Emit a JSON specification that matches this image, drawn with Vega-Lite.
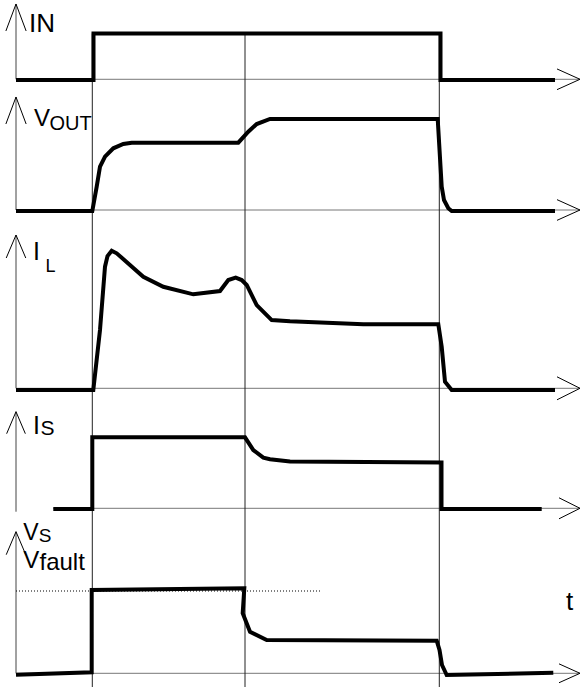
{
  "$schema": "https://vega.github.io/schema/vega-lite/v6.json",
  "background": "white",
  "padding": 0,
  "spacing": 0,
  "bounds": "flush",
  "config": {"view": {"stroke": null}, "axis": {"disable": true}, "legend": {"disable": true}},
  "datasets": {
    "events": [{"t": 9.23}, {"t": 24.5}, {"t": 43.93}],
    "sig_in": [
      {"i": 0, "t": 1.6, "v": -0.015}, {"i": 1, "t": 9.35, "v": -0.015}, {"i": 2, "t": 9.35, "v": 1.0},
      {"i": 3, "t": 44.05, "v": 1.0}, {"i": 4, "t": 44.05, "v": -0.015}, {"i": 5, "t": 55.5, "v": -0.015}
    ],
    "sig_vout": [
      {"i": 0, "t": 1.6, "v": -0.011}, {"i": 1, "t": 9.23, "v": -0.011}, {"i": 2, "t": 9.67, "v": 0.256},
      {"i": 3, "t": 10.0, "v": 0.476}, {"i": 4, "t": 10.5, "v": 0.586}, {"i": 5, "t": 11.33, "v": 0.678},
      {"i": 6, "t": 12.33, "v": 0.725}, {"i": 7, "t": 13.17, "v": 0.74}, {"i": 8, "t": 23.83, "v": 0.74},
      {"i": 9, "t": 24.83, "v": 0.86}, {"i": 10, "t": 25.67, "v": 0.945}, {"i": 11, "t": 27.0, "v": 1.0},
      {"i": 12, "t": 43.77, "v": 1.0}, {"i": 13, "t": 44.17, "v": 0.256}, {"i": 14, "t": 44.4, "v": 0.11},
      {"i": 15, "t": 44.83, "v": 0.019}, {"i": 16, "t": 45.17, "v": -0.011}, {"i": 17, "t": 55.5, "v": -0.011}
    ],
    "sig_il": [
      {"i": 0, "t": 1.6, "v": -0.012}, {"i": 1, "t": 9.33, "v": -0.012}, {"i": 2, "t": 10.0, "v": 0.424},
      {"i": 3, "t": 10.5, "v": 0.884}, {"i": 4, "t": 10.75, "v": 0.961}, {"i": 5, "t": 11.17, "v": 1.0},
      {"i": 6, "t": 11.67, "v": 0.981}, {"i": 7, "t": 14.33, "v": 0.811}, {"i": 8, "t": 16.33, "v": 0.738},
      {"i": 9, "t": 19.33, "v": 0.683}, {"i": 10, "t": 22.0, "v": 0.707}, {"i": 11, "t": 22.83, "v": 0.787},
      {"i": 12, "t": 23.57, "v": 0.804}, {"i": 13, "t": 24.17, "v": 0.787}, {"i": 14, "t": 24.67, "v": 0.751},
      {"i": 15, "t": 25.67, "v": 0.605}, {"i": 16, "t": 27.17, "v": 0.496}, {"i": 17, "t": 29.0, "v": 0.487},
      {"i": 18, "t": 36.33, "v": 0.465}, {"i": 19, "t": 43.83, "v": 0.465}, {"i": 20, "t": 44.17, "v": 0.302},
      {"i": 21, "t": 44.5, "v": 0.048}, {"i": 22, "t": 45.17, "v": -0.012}, {"i": 23, "t": 55.5, "v": -0.012}
    ],
    "sig_is": [
      {"i": 0, "t": 5.33, "v": -0.01}, {"i": 1, "t": 9.23, "v": -0.01}, {"i": 2, "t": 9.23, "v": 1.0},
      {"i": 3, "t": 24.5, "v": 1.0}, {"i": 4, "t": 25.33, "v": 0.821}, {"i": 5, "t": 26.33, "v": 0.713},
      {"i": 6, "t": 27.0, "v": 0.69}, {"i": 7, "t": 29.0, "v": 0.659}, {"i": 8, "t": 44.15, "v": 0.645},
      {"i": 9, "t": 44.15, "v": -0.01}, {"i": 10, "t": 54.17, "v": -0.01}
    ],
    "sig_vs": [
      {"i": 0, "t": 1.6, "v": -0.017}, {"i": 1, "t": 9.17, "v": 0.012}, {"i": 2, "t": 9.17, "v": 1.012},
      {"i": 3, "t": 24.43, "v": 1.033}, {"i": 4, "t": 24.27, "v": 0.729}, {"i": 5, "t": 25.0, "v": 0.505},
      {"i": 6, "t": 26.67, "v": 0.405}, {"i": 7, "t": 43.67, "v": 0.396}, {"i": 8, "t": 43.95, "v": 0.283},
      {"i": 9, "t": 44.2, "v": 0.101}, {"i": 10, "t": 44.67, "v": -0.021}, {"i": 11, "t": 55.33, "v": 0.007}
    ]
  },
  "vconcat": [
    {
      "width": 580, "height": 88,
      "layer": [
        {"data": {"values": [{}]}, "mark": {"type": "rule", "color": "#777", "strokeWidth": 1},
         "encoding": {"x": {"datum": 1.6, "type": "quantitative", "scale": {"domain": [0, 58], "nice": false}}, "x2": {"datum": 58},
                      "y": {"datum": 0, "type": "quantitative", "scale": {"domain": [-0.19, 1.731], "nice": false}}}},
        {"data": {"name": "events"}, "mark": {"type": "rule", "color": "#222", "strokeWidth": 1},
         "encoding": {"x": {"field": "t", "type": "quantitative", "scale": {"domain": [0, 58], "nice": false}},
                      "y": {"datum": 1, "type": "quantitative", "scale": {"domain": [-0.19, 1.731], "nice": false}}, "y2": {"datum": -0.19}}},
        {"data": {"values": [{}]}, "mark": {"type": "rule", "color": "#444", "strokeWidth": 1},
         "encoding": {"x": {"datum": 1.6, "type": "quantitative", "scale": {"domain": [0, 58], "nice": false}},
                      "y": {"datum": 1.644, "type": "quantitative", "scale": {"domain": [-0.19, 1.731], "nice": false}}, "y2": {"datum": 0}}},
        {"data": {"values": [{}]}, "mark": {"type": "point", "shape": "M-0.75,2L0,0L0.75,2", "size": 729, "filled": false, "stroke": "black", "strokeWidth": 1, "opacity": 1},
         "encoding": {"x": {"datum": 1.6, "type": "quantitative", "scale": {"domain": [0, 58], "nice": false}},
                      "y": {"datum": 1.644, "type": "quantitative", "scale": {"domain": [-0.19, 1.731], "nice": false}}}},
        {"data": {"values": [{}]}, "mark": {"type": "point", "shape": "M-2,-0.9L0,0L-2,0.9", "size": 529, "filled": false, "stroke": "black", "strokeWidth": 1, "opacity": 1},
         "encoding": {"x": {"datum": 58, "type": "quantitative", "scale": {"domain": [0, 58], "nice": false}},
                      "y": {"datum": 0, "type": "quantitative", "scale": {"domain": [-0.19, 1.731], "nice": false}}}},
        {"data": {"name": "sig_in"}, "mark": {"type": "line", "color": "black", "strokeWidth": 4, "strokeJoin": "miter", "strokeCap": "butt"},
         "encoding": {"x": {"field": "t", "type": "quantitative", "scale": {"domain": [0, 58], "nice": false}},
                      "y": {"field": "v", "type": "quantitative", "scale": {"domain": [-0.19, 1.731], "nice": false}},
                      "order": {"field": "i", "type": "quantitative"}}},
        {"data": {"values": [{}]}, "mark": {"type": "text", "align": "left", "baseline": "alphabetic", "font": "Liberation Sans", "fontSize": 26, "color": "black"},
         "encoding": {"x": {"datum": 2.9, "type": "quantitative", "scale": {"domain": [0, 58], "nice": false}},
                      "y": {"datum": 1.033, "type": "quantitative", "scale": {"domain": [-0.19, 1.731], "nice": false}},
                      "text": {"value": "IN"}}}
      ]
    },
    {
      "width": 580, "height": 130,
      "layer": [
        {"data": {"values": [{}]}, "mark": {"type": "rule", "color": "#777", "strokeWidth": 1},
         "encoding": {"x": {"datum": 1.6, "type": "quantitative", "scale": {"domain": [0, 58], "nice": false}}, "x2": {"datum": 58},
                      "y": {"datum": 0, "type": "quantitative", "scale": {"domain": [-0.0879, 1.3407], "nice": false}}}},
        {"data": {"name": "events"}, "mark": {"type": "rule", "color": "#222", "strokeWidth": 1},
         "encoding": {"x": {"field": "t", "type": "quantitative", "scale": {"domain": [0, 58], "nice": false}}}},
        {"data": {"values": [{}]}, "mark": {"type": "rule", "color": "#444", "strokeWidth": 1},
         "encoding": {"x": {"datum": 1.6, "type": "quantitative", "scale": {"domain": [0, 58], "nice": false}},
                      "y": {"datum": 1.2418, "type": "quantitative", "scale": {"domain": [-0.0879, 1.3407], "nice": false}}, "y2": {"datum": 0}}},
        {"data": {"values": [{}]}, "mark": {"type": "point", "shape": "M-0.75,2L0,0L0.75,2", "size": 729, "filled": false, "stroke": "black", "strokeWidth": 1, "opacity": 1},
         "encoding": {"x": {"datum": 1.6, "type": "quantitative", "scale": {"domain": [0, 58], "nice": false}},
                      "y": {"datum": 1.2418, "type": "quantitative", "scale": {"domain": [-0.0879, 1.3407], "nice": false}}}},
        {"data": {"values": [{}]}, "mark": {"type": "point", "shape": "M-2,-0.9L0,0L-2,0.9", "size": 529, "filled": false, "stroke": "black", "strokeWidth": 1, "opacity": 1},
         "encoding": {"x": {"datum": 58, "type": "quantitative", "scale": {"domain": [0, 58], "nice": false}},
                      "y": {"datum": 0, "type": "quantitative", "scale": {"domain": [-0.0879, 1.3407], "nice": false}}}},
        {"data": {"name": "sig_vout"}, "mark": {"type": "line", "color": "black", "strokeWidth": 4, "strokeJoin": "miter", "strokeCap": "butt"},
         "encoding": {"x": {"field": "t", "type": "quantitative", "scale": {"domain": [0, 58], "nice": false}},
                      "y": {"field": "v", "type": "quantitative", "scale": {"domain": [-0.0879, 1.3407], "nice": false}},
                      "order": {"field": "i", "type": "quantitative"}}},
        {"data": {"values": [{}]}, "mark": {"type": "text", "align": "left", "baseline": "alphabetic", "font": "Liberation Sans", "fontSize": 24, "color": "black"},
         "encoding": {"x": {"datum": 3.4, "type": "quantitative", "scale": {"domain": [0, 58], "nice": false}},
                      "y": {"datum": 0.9286, "type": "quantitative", "scale": {"domain": [-0.0879, 1.3407], "nice": false}},
                      "text": {"value": "V"}}},
        {"data": {"values": [{}]}, "mark": {"type": "text", "align": "left", "baseline": "alphabetic", "font": "Liberation Sans", "fontSize": 20, "color": "black"},
         "encoding": {"x": {"datum": 4.95, "type": "quantitative", "scale": {"domain": [0, 58], "nice": false}},
                      "y": {"datum": 0.879, "type": "quantitative", "scale": {"domain": [-0.0879, 1.3407], "nice": false}},
                      "text": {"value": "OUT"}}}
      ]
    },
    {
      "width": 580, "height": 180,
      "layer": [
        {"data": {"values": [{}]}, "mark": {"type": "rule", "color": "#777", "strokeWidth": 1},
         "encoding": {"x": {"datum": 1.6, "type": "quantitative", "scale": {"domain": [0, 58], "nice": false}}, "x2": {"datum": 58},
                      "y": {"datum": 0, "type": "quantitative", "scale": {"domain": [-0.0705, 1.2377], "nice": false}}}},
        {"data": {"name": "events"}, "mark": {"type": "rule", "color": "#222", "strokeWidth": 1},
         "encoding": {"x": {"field": "t", "type": "quantitative", "scale": {"domain": [0, 58], "nice": false}}}},
        {"data": {"values": [{}]}, "mark": {"type": "rule", "color": "#444", "strokeWidth": 1},
         "encoding": {"x": {"datum": 1.6, "type": "quantitative", "scale": {"domain": [0, 58], "nice": false}},
                      "y": {"datum": 1.1141, "type": "quantitative", "scale": {"domain": [-0.0705, 1.2377], "nice": false}}, "y2": {"datum": 0}}},
        {"data": {"values": [{}]}, "mark": {"type": "point", "shape": "M-0.85,2L0,0L0.85,2", "size": 529, "filled": false, "stroke": "black", "strokeWidth": 1, "opacity": 1},
         "encoding": {"x": {"datum": 1.6, "type": "quantitative", "scale": {"domain": [0, 58], "nice": false}},
                      "y": {"datum": 1.1141, "type": "quantitative", "scale": {"domain": [-0.0705, 1.2377], "nice": false}}}},
        {"data": {"values": [{}]}, "mark": {"type": "point", "shape": "M-2,-1L0,0L-2,1", "size": 529, "filled": false, "stroke": "black", "strokeWidth": 1, "opacity": 1},
         "encoding": {"x": {"datum": 58, "type": "quantitative", "scale": {"domain": [0, 58], "nice": false}},
                      "y": {"datum": 0, "type": "quantitative", "scale": {"domain": [-0.0705, 1.2377], "nice": false}}}},
        {"data": {"name": "sig_il"}, "mark": {"type": "line", "color": "black", "strokeWidth": 4, "strokeJoin": "miter", "strokeCap": "butt"},
         "encoding": {"x": {"field": "t", "type": "quantitative", "scale": {"domain": [0, 58], "nice": false}},
                      "y": {"field": "v", "type": "quantitative", "scale": {"domain": [-0.0705, 1.2377], "nice": false}},
                      "order": {"field": "i", "type": "quantitative"}}},
        {"data": {"values": [{}]}, "mark": {"type": "text", "align": "left", "baseline": "alphabetic", "font": "Liberation Sans", "fontSize": 25, "color": "black"},
         "encoding": {"x": {"datum": 3.3, "type": "quantitative", "scale": {"domain": [0, 58], "nice": false}},
                      "y": {"datum": 0.9324, "type": "quantitative", "scale": {"domain": [-0.0705, 1.2377], "nice": false}},
                      "text": {"value": "I"}}},
        {"data": {"values": [{}]}, "mark": {"type": "text", "align": "left", "baseline": "alphabetic", "font": "Liberation Sans", "fontSize": 18, "color": "black"},
         "encoding": {"x": {"datum": 4.55, "type": "quantitative", "scale": {"domain": [0, 58], "nice": false}},
                      "y": {"datum": 0.8474, "type": "quantitative", "scale": {"domain": [-0.0705, 1.2377], "nice": false}},
                      "text": {"value": "L"}}}
      ]
    },
    {
      "width": 580, "height": 120,
      "layer": [
        {"data": {"values": [{}]}, "mark": {"type": "rule", "color": "#777", "strokeWidth": 1},
         "encoding": {"x": {"datum": 5.33, "type": "quantitative", "scale": {"domain": [0, 58], "nice": false}}, "x2": {"datum": 58},
                      "y": {"datum": 0, "type": "quantitative", "scale": {"domain": [-0.1366, 1.5535], "nice": false}}}},
        {"data": {"name": "events"}, "mark": {"type": "rule", "color": "#222", "strokeWidth": 1},
         "encoding": {"x": {"field": "t", "type": "quantitative", "scale": {"domain": [0, 58], "nice": false}}}},
        {"data": {"values": [{}]}, "mark": {"type": "rule", "color": "#444", "strokeWidth": 1},
         "encoding": {"x": {"datum": 1.6, "type": "quantitative", "scale": {"domain": [0, 58], "nice": false}},
                      "y": {"datum": 1.3606, "type": "quantitative", "scale": {"domain": [-0.1366, 1.5535], "nice": false}}, "y2": {"datum": -0.048}}},
        {"data": {"values": [{}]}, "mark": {"type": "point", "shape": "M-0.85,2L0,0L0.85,2", "size": 484, "filled": false, "stroke": "black", "strokeWidth": 1, "opacity": 1},
         "encoding": {"x": {"datum": 1.6, "type": "quantitative", "scale": {"domain": [0, 58], "nice": false}},
                      "y": {"datum": 1.3606, "type": "quantitative", "scale": {"domain": [-0.1366, 1.5535], "nice": false}}}},
        {"data": {"values": [{}]}, "mark": {"type": "point", "shape": "M-2,-1L0,0L-2,1", "size": 441, "filled": false, "stroke": "black", "strokeWidth": 1, "opacity": 1},
         "encoding": {"x": {"datum": 58, "type": "quantitative", "scale": {"domain": [0, 58], "nice": false}},
                      "y": {"datum": 0, "type": "quantitative", "scale": {"domain": [-0.1366, 1.5535], "nice": false}}}},
        {"data": {"name": "sig_is"}, "mark": {"type": "line", "color": "black", "strokeWidth": 4, "strokeJoin": "miter", "strokeCap": "butt"},
         "encoding": {"x": {"field": "t", "type": "quantitative", "scale": {"domain": [0, 58], "nice": false}},
                      "y": {"field": "v", "type": "quantitative", "scale": {"domain": [-0.1366, 1.5535], "nice": false}},
                      "order": {"field": "i", "type": "quantitative"}}},
        {"data": {"values": [{}]}, "mark": {"type": "text", "align": "left", "baseline": "alphabetic", "font": "Liberation Sans", "fontSize": 25, "color": "black"},
         "encoding": {"x": {"datum": 3.3, "type": "quantitative", "scale": {"domain": [0, 58], "nice": false}},
                      "y": {"datum": 1.0465, "type": "quantitative", "scale": {"domain": [-0.1366, 1.5535], "nice": false}},
                      "text": {"value": "I"}}},
        {"data": {"values": [{}]}, "mark": {"type": "text", "align": "left", "baseline": "alphabetic", "font": "Liberation Sans", "fontSize": 21, "color": "black"},
         "encoding": {"x": {"datum": 4.05, "type": "quantitative", "scale": {"domain": [0, 58], "nice": false}},
                      "y": {"datum": 1.0324, "type": "quantitative", "scale": {"domain": [-0.1366, 1.5535], "nice": false}},
                      "text": {"value": "S"}}}
      ]
    },
    {
      "width": 580, "height": 169,
      "layer": [
        {"data": {"values": [{}]}, "mark": {"type": "rule", "color": "#777", "strokeWidth": 1},
         "encoding": {"x": {"datum": 1.6, "type": "quantitative", "scale": {"domain": [0, 58], "nice": false}}, "x2": {"datum": 58},
                      "y": {"datum": 0, "type": "quantitative", "scale": {"domain": [-0.1665, 1.887], "nice": false}}}},
        {"data": {"name": "events"}, "mark": {"type": "rule", "color": "#222", "strokeWidth": 1},
         "encoding": {"x": {"field": "t", "type": "quantitative", "scale": {"domain": [0, 58], "nice": false}}}},
        {"data": {"values": [{}]}, "mark": {"type": "rule", "color": "#444", "strokeWidth": 1},
         "encoding": {"x": {"datum": 1.6, "type": "quantitative", "scale": {"domain": [0, 58], "nice": false}},
                      "y": {"datum": 1.7205, "type": "quantitative", "scale": {"domain": [-0.1665, 1.887], "nice": false}}, "y2": {"datum": 0}}},
        {"data": {"values": [{}]}, "mark": {"type": "point", "shape": "M-0.85,2L0,0L0.85,2", "size": 529, "filled": false, "stroke": "black", "strokeWidth": 1, "opacity": 1},
         "encoding": {"x": {"datum": 1.6, "type": "quantitative", "scale": {"domain": [0, 58], "nice": false}},
                      "y": {"datum": 1.7205, "type": "quantitative", "scale": {"domain": [-0.1665, 1.887], "nice": false}}}},
        {"data": {"values": [{}]}, "mark": {"type": "point", "shape": "M-2,-0.9L0,0L-2,0.9", "size": 441, "filled": false, "stroke": "black", "strokeWidth": 1, "opacity": 1},
         "encoding": {"x": {"datum": 58, "type": "quantitative", "scale": {"domain": [0, 58], "nice": false}},
                      "y": {"datum": 0, "type": "quantitative", "scale": {"domain": [-0.1665, 1.887], "nice": false}}}},
        {"data": {"values": [{}]}, "mark": {"type": "rule", "color": "black", "strokeWidth": 1.2, "strokeDash": [1, 2]},
         "encoding": {"x": {"datum": 1.6, "type": "quantitative", "scale": {"domain": [0, 58], "nice": false}}, "x2": {"datum": 32.17},
                      "y": {"datum": 1, "type": "quantitative", "scale": {"domain": [-0.1665, 1.887], "nice": false}}}},
        {"data": {"name": "sig_vs"}, "mark": {"type": "line", "color": "black", "strokeWidth": 4, "strokeJoin": "miter", "strokeCap": "butt"},
         "encoding": {"x": {"field": "t", "type": "quantitative", "scale": {"domain": [0, 58], "nice": false}},
                      "y": {"field": "v", "type": "quantitative", "scale": {"domain": [-0.1665, 1.887], "nice": false}},
                      "order": {"field": "i", "type": "quantitative"}}},
        {"data": {"values": [{}]}, "mark": {"type": "text", "align": "left", "baseline": "alphabetic", "font": "Liberation Sans", "fontSize": 23, "color": "black"},
         "encoding": {"x": {"datum": 2.33, "type": "quantitative", "scale": {"domain": [0, 58], "nice": false}},
                      "y": {"datum": 1.6197, "type": "quantitative", "scale": {"domain": [-0.1665, 1.887], "nice": false}},
                      "text": {"value": "V"}}},
        {"data": {"values": [{}]}, "mark": {"type": "text", "align": "left", "baseline": "alphabetic", "font": "Liberation Sans", "fontSize": 19, "color": "black"},
         "encoding": {"x": {"datum": 3.88, "type": "quantitative", "scale": {"domain": [0, 58], "nice": false}},
                      "y": {"datum": 1.599, "type": "quantitative", "scale": {"domain": [-0.1665, 1.887], "nice": false}},
                      "text": {"value": "S"}}},
        {"data": {"values": [{}]}, "mark": {"type": "text", "align": "left", "baseline": "alphabetic", "font": "Liberation Sans", "fontSize": 24, "color": "black"},
         "encoding": {"x": {"datum": 2.33, "type": "quantitative", "scale": {"domain": [0, 58], "nice": false}},
                      "y": {"datum": 1.2758, "type": "quantitative", "scale": {"domain": [-0.1665, 1.887], "nice": false}},
                      "text": {"value": "V"}}},
        {"data": {"values": [{}]}, "mark": {"type": "text", "align": "left", "baseline": "alphabetic", "font": "Liberation Sans", "fontSize": 24, "color": "black"},
         "encoding": {"x": {"datum": 3.95, "type": "quantitative", "scale": {"domain": [0, 58], "nice": false}},
                      "y": {"datum": 1.2612, "type": "quantitative", "scale": {"domain": [-0.1665, 1.887], "nice": false}},
                      "text": {"value": "fault"}}},
        {"data": {"values": [{}]}, "mark": {"type": "text", "align": "left", "baseline": "alphabetic", "font": "Liberation Sans", "fontSize": 26, "color": "black"},
         "encoding": {"x": {"datum": 56.6, "type": "quantitative", "scale": {"domain": [0, 58], "nice": false}},
                      "y": {"datum": 0.769, "type": "quantitative", "scale": {"domain": [-0.1665, 1.887], "nice": false}},
                      "text": {"value": "t"}}}
      ]
    }
  ]
}
